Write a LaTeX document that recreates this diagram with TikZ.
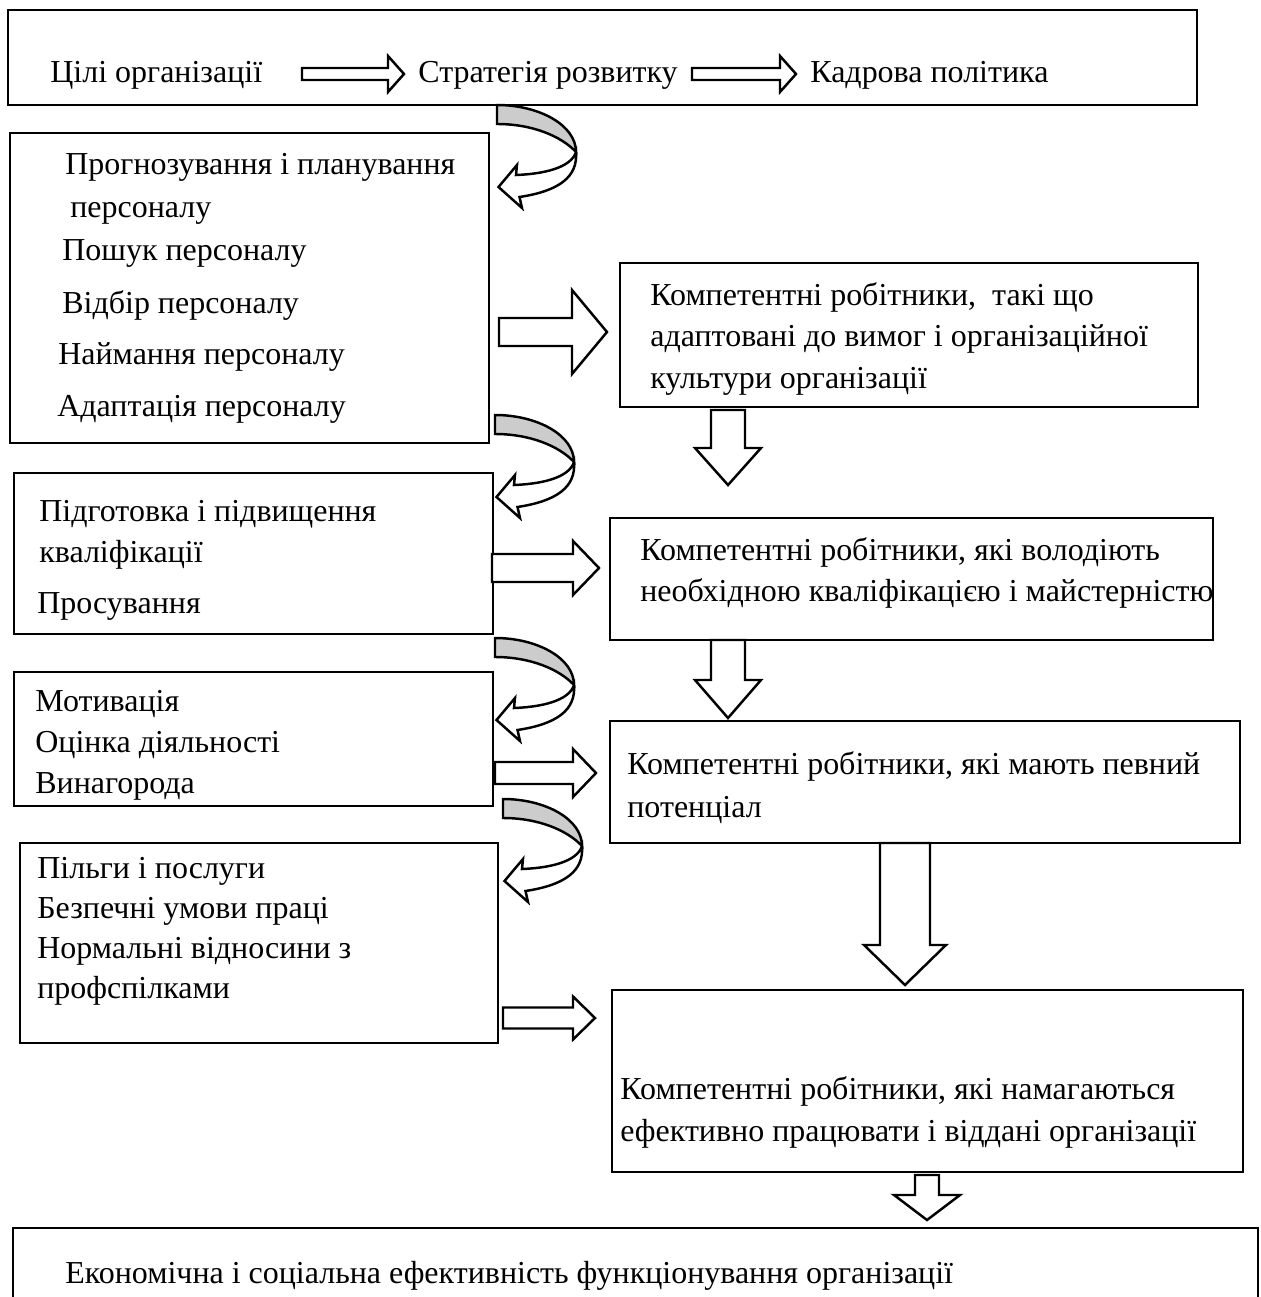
\documentclass[tikz,border=0pt]{standalone}
\usepackage{fontspec}
\setmainfont{Liberation Serif}
\usetikzlibrary{fit}

\tikzset{
  box/.style={draw, line width=1.4pt, inner sep=0pt},
  txt/.style={anchor=base west, inner sep=0pt, font=\fontsize{18.2}{20}\selectfont},
  blk/.style={draw, fill=white, line width=1.4pt, line join=miter},
}

% block arrow to the right: start, head base, tip, y centre, shaft half, head half
\newcommand{\rightblock}[6]{%
  \draw[blk] (#1,#4-#5) -- (#2,#4-#5) -- (#2,#4-#6) -- (#3,#4) -- (#2,#4+#6) -- (#2,#4+#5) -- (#1,#4+#5) -- cycle;}
% block arrow down: x centre, start, head base, tip, shaft half, head half
\newcommand{\downblock}[6]{%
  \draw[blk] (#1-#5,#2) -- (#1+#5,#2) -- (#1+#5,#3) -- (#1+#6,#3) -- (#1,#4) -- (#1-#6,#3) -- (#1-#5,#3) -- cycle;}
% curled ribbon arrow, top left corner given
\newcommand{\curlblock}[2]{%
  \begin{scope}[shift={(#1,#2)}]
    \filldraw[blk, fill=gray!40] (0,0) .. controls (42,0) and (79,20) .. (79,47) .. controls (64,31) and (35,19) .. (0,19) -- cycle;
    \filldraw[blk] (79,47) .. controls (74,63) and (46,69) .. (19,70) -- (20,60) -- (1.5,82) -- (25,103) -- (22.5,92) .. controls (62,86) and (81,72) .. (79,47) -- cycle;
  \end{scope}}

\begin{document}
\begin{tikzpicture}[x=0.02cm, y=-0.02cm]
  \clip (0,0) rectangle (1260,1297);
  \useasboundingbox (0,0) rectangle (1260,1297);

  % top row
  \node[box, fit={(8,10) (1197,105)}] (goals) {};
  \node[txt] (aim) at (50,83) {Цілі організації};
  \node[txt] (strategy) at (418,83) {Стратегія розвитку};
  \node[txt] (policy) at (810,83) {Кадрова політика};
  \rightblock{302}{388}{404}{74}{6}{18}
  \rightblock{692}{780}{796}{74}{6}{18}

  % left column
  \node[box, fit={(10,133) (489,443)}] (plan) {};
  \node[txt] at (65,175) {Прогнозування і планування};
  \node[txt] at (70,218) {персоналу};
  \node[txt] at (62,261) {Пошук персоналу};
  \node[txt] at (62,314) {Відбір персоналу};
  \node[txt] at (58,364) {Наймання персоналу};
  \node[txt] at (57,416) {Адаптація персоналу};

  \node[box, fit={(14,473) (493,634)}] (train) {};
  \node[txt] at (39,521) {Підготовка і підвищення};
  \node[txt] at (39,562) {кваліфікації};
  \node[txt] at (37,613) {Просування};

  \node[box, fit={(14,672) (493,806)}] (motive) {};
  \node[txt] at (35,711) {Мотивація};
  \node[txt] at (35,752) {Оцінка діяльності};
  \node[txt] at (35,793) {Винагорода};

  \node[box, fit={(20,843) (498,1043)}] (benefit) {};
  \node[txt] at (37,878) {Пільги і послуги};
  \node[txt] at (37,918) {Безпечні умови праці};
  \node[txt] at (37,958) {Нормальні відносини з};
  \node[txt] at (37,998) {профспілками};

  % right column
  \node[box, fit={(620,263) (1198,407)}] (adapted) {};
  \node[txt] at (650,305) {Компетентні робітники,\ \ такі що};
  \node[txt] at (650,346) {адаптовані до вимог і організаційної};
  \node[txt] at (650,388) {культури організації};

  \node[box, fit={(610,518) (1213,640)}] (skilled) {};
  \node[txt] at (640,560) {Компетентні робітники, які володіють};
  \node[txt] at (640,601) {необхідною кваліфікацією і майстерністю};

  \node[box, fit={(610,721) (1240,843)}] (able) {};
  \node[txt] at (627,774) {Компетентні робітники, які мають певний};
  \node[txt] at (627,817) {потенціал};

  \node[box, fit={(612,990) (1243,1172)}] (loyal) {};
  \node[txt] at (620,1099) {Компетентні робітники, які намагаються};
  \node[txt] at (620,1141) {ефективно працювати і віддані організації};

  \node[box, fit={(13,1228) (1258,1320)}] (result) {};
  \node[txt] at (65,1283) {Економічна і соціальна ефективність функціонування організації};

  % curled arrows
  \curlblock{497}{105}
  \curlblock{495}{415}
  \curlblock{495}{638}
  \curlblock{503}{799}

  % arrows to the right
  \rightblock{499}{572}{607}{332}{14}{42}
  \rightblock{492}{573}{599}{568}{14}{27}
  \rightblock{495}{573}{596}{773}{11}{24}
  \rightblock{503}{573}{595}{1018}{10.5}{21.5}

  % arrows down
  \downblock{728}{410}{448}{485}{17}{33}
  \downblock{728}{640}{680}{718}{17}{33}
  \downblock{905}{843}{945}{985}{25}{41}
  \downblock{927}{1175}{1195}{1220}{12}{33}
\end{tikzpicture}
\end{document}
